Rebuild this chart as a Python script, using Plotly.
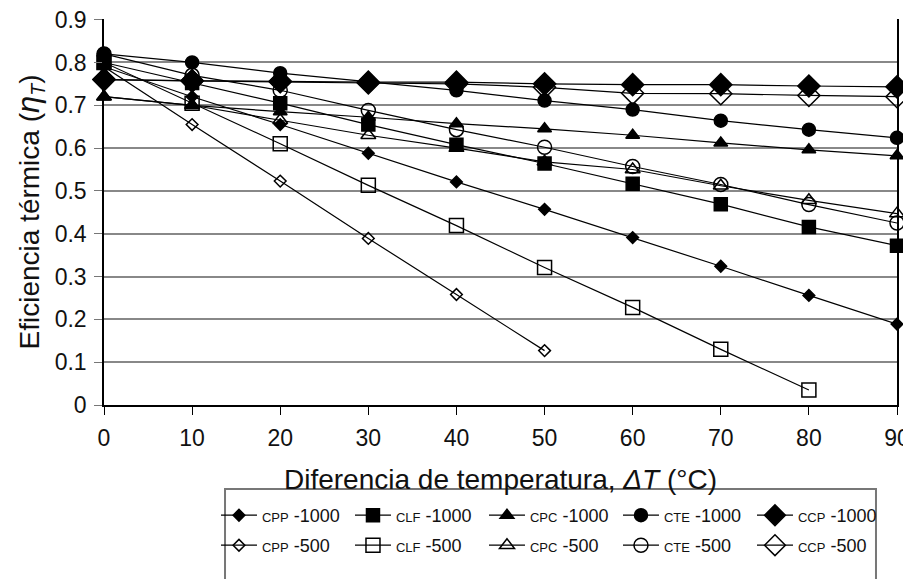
import plotly.graph_objects as go

delta_t = [0, 10, 20, 30, 40, 50, 60, 70, 80, 90]

cpp_1000 = [0.79, 0.72, 0.655, 0.588, 0.521, 0.457, 0.391, 0.324, 0.256, 0.189]
clf_1000 = [0.80, 0.752, 0.705, 0.655, 0.608, 0.564, 0.517, 0.469, 0.416, 0.372]
cpc_1000 = [0.72, 0.70, 0.685, 0.672, 0.657, 0.645, 0.63, 0.612, 0.596, 0.582]
cte_1000 = [0.82, 0.80, 0.775, 0.755, 0.735, 0.711, 0.69, 0.664, 0.643, 0.624]
ccp_1000 = [0.76, 0.757, 0.756, 0.754, 0.754, 0.75, 0.748, 0.748, 0.745, 0.743]

cpp_500 = [0.79, 0.655, 0.523, 0.389, 0.258, 0.127]
clf_500 = [0.80, 0.705, 0.61, 0.513, 0.419, 0.321, 0.228, 0.13, 0.035]
cpc_500 = [0.72, 0.70, 0.665, 0.63, 0.60, 0.568, 0.55, 0.512, 0.478, 0.447]
cte_500 = [0.82, 0.77, 0.735, 0.688, 0.643, 0.602, 0.557, 0.515, 0.468, 0.425]
ccp_500 = [0.76, 0.757, 0.755, 0.752, 0.75, 0.742, 0.728, 0.727, 0.723, 0.72]

y_ticks = [0, 0.1, 0.2, 0.3, 0.4, 0.5, 0.6, 0.7, 0.8, 0.9]
y_tick_text = ["0", "0.1", "0.2", "0.3", "0.4", "0.5", "0.6", "0.7", "0.8", "0.9"]

def label(code, num):
    return f"<span style='font-size:13px'>{code}</span> {num}"

series = [
    ("CPP", "-1000", cpp_1000, "diamond", 9, "legend"),
    ("CLF", "-1000", clf_1000, "square", 13, "legend"),
    ("CPC", "-1000", cpc_1000, "triangle-up", 12, "legend"),
    ("CTE", "-1000", cte_1000, "circle", 13, "legend"),
    ("CCP", "-1000", ccp_1000, "diamond", 17, "legend"),
    ("CPP", "-500", cpp_500, "diamond-open", 9, "legend2"),
    ("CLF", "-500", clf_500, "square-open", 14, "legend2"),
    ("CPC", "-500", cpc_500, "triangle-up-open", 13, "legend2"),
    ("CTE", "-500", cte_500, "circle-open", 14, "legend2"),
    ("CCP", "-500", ccp_500, "diamond-open", 17, "legend2"),
]

fig = go.Figure()
for code, num, vals, sym, size, lg in series:
    fig.add_trace(go.Scatter(
        x=delta_t[:len(vals)], y=vals, mode="lines+markers",
        name=label(code, num), legend=lg,
        line=dict(color="black", width=1.2),
        marker=dict(symbol=sym, size=size, color="black",
                    line=dict(color="black", width=1.5)),
        cliponaxis=False,
    ))

common_legend = dict(
    orientation="h", xanchor="left", yanchor="top",
    xref="container", yref="container",
    borderwidth=0,
    font=dict(size=18, color="#111"),
    entrywidth=83, entrywidthmode="pixels",
    itemwidth=36, tracegroupgap=0, bgcolor="rgba(0,0,0,0)",
)

fig.update_layout(
    width=911, height=579,
    margin=dict(l=96, r=22, t=11, b=182),
    paper_bgcolor="white", plot_bgcolor="white",
    font=dict(family="Liberation Sans, Arial, sans-serif", color="#111", size=18),
    showlegend=True,
    legend=dict(common_legend, x=0.2283, y=0.1554),
    legend2=dict(common_legend, x=0.2283, y=0.1036),
    shapes=[dict(type="rect", xref="paper", yref="paper",
                 x0=0.1526, x1=0.9735, y0=-0.2176, y1=-0.52,
                 line=dict(color="#777", width=2), fillcolor="rgba(0,0,0,0)",
                 layer="below")],
)
fig.update_xaxes(
    range=[0, 90], tickvals=delta_t, ticks="outside", ticklen=8,
    tickcolor="black", showline=True, linecolor="black", linewidth=1.5,
    showgrid=False, zeroline=False, ticklabelstandoff=4, automargin=False,
    ticklabeloverflow="allow", tickfont=dict(size=23),
    title=dict(text="Diferencia de temperatura, <i>ΔT</i> (°C)",
               font=dict(size=28), standoff=19),
)
fig.update_yaxes(
    range=[0, 0.9015], tickvals=y_ticks, ticktext=y_tick_text,
    ticks="outside", ticklen=8, tickcolor="#777",
    showline=True, linecolor="black", linewidth=1.5, mirror=True,
    showgrid=True, gridcolor="#888", gridwidth=1.5, zeroline=False,
    ticklabelstandoff=3, automargin=False, ticklabeloverflow="allow",
    tickfont=dict(size=23),
    title=dict(text="Eficiencia térmica (<i><span style='font-size:31px'>η</span></i><sub><i>T</i></sub>)",
               font=dict(size=28), standoff=7),
)

fig.write_html("out.html")
